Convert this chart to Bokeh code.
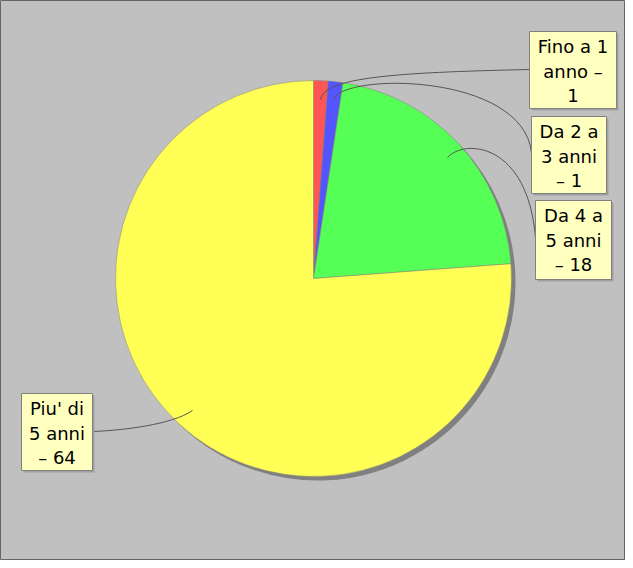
import math
from bokeh.plotting import figure
from bokeh.models import Range1d, ColumnDataSource
from bokeh.core.properties import value
from bokeh.embed import file_html
from bokeh.resources import INLINE

# ---- data ----
categories = ["Fino a 1 anno", "Da 2 a 3 anni", "Da 4 a 5 anni", "Piu' di 5 anni"]
counts = [1, 1, 18, 64]
label_lines = [
    ["Fino a 1", "anno \u2013", "1"],
    ["Da 2 a", "3 anni", "\u2013 1"],
    ["Da 4 a", "5 anni", "\u2013 18"],
    ["Piu' di", "5 anni", "\u2013 64"],
]
colors = ["#FF5555", "#5555FF", "#55FF55", "#FFFF55"]

# ---- layout (image pixel coords) ----
W, H = 625, 560
def X(x): return x - 8
def Y(y): return 568 - y

cx, cy, R = 321, 286, 198
boxes = [(537, 39, 624, 116), (539, 124, 614, 201), (543, 208, 619, 287), (29, 401, 100, 478)]
leaders = [
    [(328, 107), (332, 85), (400, 80), (537, 77)],
    [(341, 107), (350, 80), (530, 80), (539, 160)],
    [(455, 165), (472, 146), (535, 150), (543, 245)],
    [(200, 418), (180, 432), (130, 438), (100, 439)],
]

total = sum(counts)
starts, ends = [], []
a = math.pi / 2
for c in counts:
    starts.append(a)
    a -= 2 * math.pi * c / total
    ends.append(a)

p = figure(width=W, height=H, output_backend="svg", toolbar_location=None,
           x_range=Range1d(0, W), y_range=Range1d(0, H), min_border=0)
p.axis.visible = False
p.grid.visible = False
p.background_fill_color = "#C0C0C0"
p.border_fill_color = "white"
p.outline_line_color = "#666666"
p.outline_line_width = 1

src = ColumnDataSource(dict(start=starts, end=ends, color=colors, cat=categories, n=counts))

# shadow
p.wedge(x=X(cx) + 4, y=Y(cy) - 4, radius=R, start_angle="start", end_angle="end",
        direction="clock", source=src, fill_color="#808080", line_color=None)
# pie
p.wedge(x=X(cx), y=Y(cy), radius=R, start_angle="start", end_angle="end",
        direction="clock", source=src, fill_color="color", line_color="#808080",
        line_width=0.5)

# leader lines
for (p0, p1, p2, p3) in leaders:
    p.bezier(x0=X(p0[0]), y0=Y(p0[1]), cx0=X(p1[0]), cy0=Y(p1[1]),
             cx1=X(p2[0]), cy1=Y(p2[1]), x1=X(p3[0]), y1=Y(p3[1]),
             line_color="#555555", line_width=1)

# label boxes
for (l, t, r, b), lines in zip(boxes, label_lines):
    p.quad(left=X(l) + 2, right=X(r) + 2, top=Y(t) - 2, bottom=Y(b) - 2,
           fill_color="#A0A0A0", line_color=None)
    p.quad(left=X(l), right=X(r), top=Y(t), bottom=Y(b),
           fill_color="#FFFFC0", line_color="#808080", line_width=1)
    mid = (l + r) / 2
    for i, s in enumerate(lines):
        p.text(x=[X(mid)], y=[Y(t + 15 + 24.5 * i)], text=[s],
               text_font=value("DejaVu Sans"), text_font_size="18px",
               text_align="center", text_baseline="middle", text_color="black")

open("out.html", "w").write(file_html(p, INLINE))
